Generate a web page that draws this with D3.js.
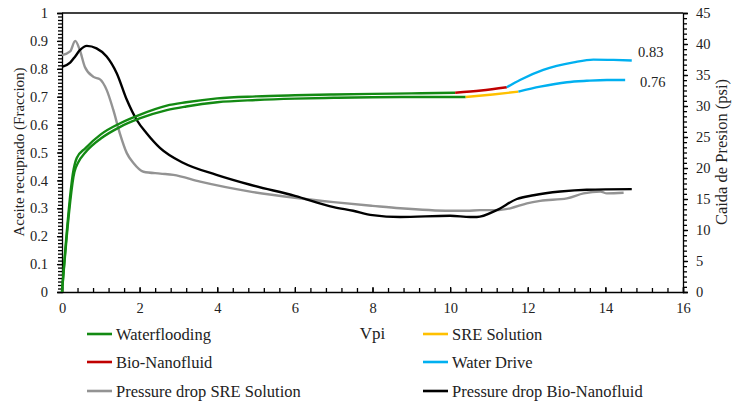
<!DOCTYPE html>
<html>
<head>
<meta charset="utf-8">
<script src="https://cdn.jsdelivr.net/npm/d3@7"></script>
<style>
  body { margin: 0; background: #fff; }
  svg text { font-family: "Liberation Serif", "Times New Roman", "DejaVu Serif", serif; }
  .axis path, .axis line { stroke: #000; stroke-width: 1.3; }
</style>
</head>
<body>
<div id="main"></div>
<script>
var outerWidth = 732;
var outerHeight = 402;

var x0 = 62, x1 = 683, yTop = 13, yBot = 292;

// recovery curves (Vpi, fraction)
var wfBioV = [0, 0.3, 0.38, 0.6, 1.0, 1.5, 2, 2.7, 3.2, 4, 5, 6, 7, 8, 9, 10.13];
var wfBioY = [0, 0.44, 0.48, 0.515, 0.565, 0.605, 0.635, 0.668, 0.68, 0.694, 0.701, 0.705, 0.708, 0.71, 0.712, 0.714];
var wfSreV = [0, 0.32, 0.42, 0.6, 1.0, 1.5, 2, 2.7, 3.2, 4, 5, 6, 7, 8, 9, 10.4];
var wfSreY = [0, 0.43, 0.465, 0.5, 0.55, 0.592, 0.622, 0.652, 0.665, 0.68, 0.688, 0.693, 0.696, 0.698, 0.699, 0.699];
var bioV = [10.13, 10.8, 11.46];
var bioY = [0.714, 0.722, 0.734];
var sreV = [10.4, 11.1, 11.76];
var sreY = [0.699, 0.708, 0.718];
var wdBioV = [11.46, 11.8, 12.4, 13.18, 13.69, 14.21, 14.68];
var wdBioY = [0.734, 0.76, 0.796, 0.823, 0.833, 0.832, 0.83];
var wdSreV = [11.76, 12.32, 13.01, 13.52, 14.04, 14.51];
var wdSreY = [0.718, 0.736, 0.752, 0.757, 0.76, 0.76];

// pressure drop curves (Vpi, psi)
var pSreV = [0, 0.21, 0.34, 0.46, 0.59, 0.81, 0.98, 1.15, 1.32, 1.49, 1.67, 1.84, 2.1, 2.53, 2.87, 3.56, 4.85, 6, 7, 8, 8.71, 10, 10.43, 10.77, 11.2, 11.55, 11.98, 12.32, 13.01, 13.44, 13.87, 14.04, 14.47];
var pSreY = [38.2, 38.8, 40.5, 39.0, 36.3, 34.7, 34.3, 32.6, 29.4, 25.6, 22.4, 20.8, 19.4, 19.1, 18.9, 17.8, 16.2, 15.2, 14.5, 13.9, 13.5, 13.1, 13.1, 13.2, 13.2, 13.5, 14.3, 14.7, 15.1, 15.9, 16.2, 15.9, 16.0];
var pBioV = [0, 0.21, 0.34, 0.46, 0.64, 0.89, 1.15, 1.41, 1.67, 1.93, 2.18, 2.53, 3.13, 3.98, 4.85, 6, 7, 7.5, 8, 8.71, 10, 10.52, 10.69, 11.2, 11.72, 12.15, 12.84, 13.52, 14.68];
var pBioY = [36.3, 37.0, 38.0, 39.0, 39.7, 39.3, 38.0, 35.3, 31.0, 27.7, 25.6, 23.2, 20.8, 18.9, 17.3, 15.5, 13.7, 13.1, 12.4, 12.1, 12.3, 12.1, 12.1, 13.2, 15.0, 15.6, 16.2, 16.5, 16.6];

var leftTicks = [0, 0.1, 0.2, 0.3, 0.4, 0.5, 0.6, 0.7, 0.8, 0.9, 1];
var rightTicks = [0, 5, 10, 15, 20, 25, 30, 35, 40, 45];
var bottomTicks = [0, 2, 4, 6, 8, 10, 12, 14, 16];

var xScale = d3.scaleLinear().domain([0, 16]).range([x0, x1]);
var yScale = d3.scaleLinear().domain([0, 1]).range([yBot, yTop]);
var pScale = d3.scaleLinear().domain([0, 45]).range([yBot, yTop]);

var svg = d3.select("#main").append("svg")
    .attr("width", outerWidth)
    .attr("height", outerHeight);

// minor ticks
var minorLeft = d3.range(0, 81).map(i => i / 80);
var minorRight = d3.range(0, 55).map(i => i * 45 / 54);
var minorBottom = d3.range(0, 41).map(i => i * 0.4);

svg.append("g").attr("class", "axis")
    .attr("transform", "translate(" + x0 + ",0)")
    .call(d3.axisLeft(yScale).tickValues(minorLeft).tickSize(4).tickFormat(""))
    .select(".domain").remove();
svg.append("g").attr("class", "axis")
    .attr("transform", "translate(" + x1 + ",0)")
    .call(d3.axisRight(pScale).tickValues(minorRight).tickSize(4).tickFormat(""))
    .select(".domain").remove();
svg.append("g").attr("class", "axis")
    .attr("transform", "translate(0," + yBot + ")")
    .call(d3.axisBottom(xScale).tickValues(minorBottom).tickSize(-4).tickFormat(""))
    .select(".domain").remove();

// main axes
svg.append("g").attr("class", "axis")
    .attr("transform", "translate(" + x0 + ",0)")
    .call(d3.axisLeft(yScale).tickValues(leftTicks).tickSizeOuter(0).tickSize(5).tickPadding(9)
        .tickFormat(d => (d === 0 || d === 1) ? String(d) : d.toFixed(1)));
svg.append("g").attr("class", "axis")
    .attr("transform", "translate(" + x1 + ",0)")
    .call(d3.axisRight(pScale).tickValues(rightTicks).tickSizeOuter(0).tickSize(5).tickPadding(8));
svg.append("g").attr("class", "axis")
    .attr("transform", "translate(0," + yBot + ")")
    .call(d3.axisBottom(xScale).tickValues(bottomTicks).tickSizeOuter(0).tickSize(-5).tickPadding(11));

svg.selectAll(".axis").attr("font-family", null).attr("font-size", null);
svg.selectAll(".axis text").attr("font-size", 14.5).attr("fill", "#222");

svg.append("line")
    .attr("x1", x0).attr("x2", x1).attr("y1", yTop).attr("y2", yTop)
    .attr("stroke", "#000").attr("stroke-width", 1.3);

// curves
var recLine = d3.line().x(d => xScale(d[0])).y(d => yScale(d[1])).curve(d3.curveMonotoneX);
var pLine = d3.line().x(d => xScale(d[0])).y(d => pScale(d[1])).curve(d3.curveMonotoneX);

function pairs(xs, ys) { return xs.map((v, i) => [v, ys[i]]); }

var series = [
  { xs: pSreV, ys: pSreY, line: pLine, color: "#939393" },
  { xs: pBioV, ys: pBioY, line: pLine, color: "#000000" },
  { xs: wfBioV, ys: wfBioY, line: recLine, color: "#138a13" },
  { xs: wfSreV, ys: wfSreY, line: recLine, color: "#138a13" },
  { xs: bioV, ys: bioY, line: recLine, color: "#c00000" },
  { xs: sreV, ys: sreY, line: recLine, color: "#ffc000" },
  { xs: wdBioV, ys: wdBioY, line: recLine, color: "#00b0f0" },
  { xs: wdSreV, ys: wdSreY, line: recLine, color: "#00b0f0" }
];

svg.selectAll("path.series").data(series).enter()
    .append("path")
    .attr("class", "series")
    .attr("fill", "none")
    .attr("stroke", d => d.color)
    .attr("stroke-width", 2.4)
    .attr("stroke-linejoin", "round")
    .attr("d", d => d.line(pairs(d.xs, d.ys)));

// end value labels
svg.append("text").attr("x", 638).attr("y", 57).attr("font-size", 14.5).attr("fill", "#222").text("0.83");
svg.append("text").attr("x", 640).attr("y", 87).attr("font-size", 14.5).attr("fill", "#222").text("0.76");

// axis titles
svg.append("text")
    .attr("transform", "translate(24,152) rotate(-90)")
    .attr("text-anchor", "middle").attr("font-size", 15).attr("fill", "#222")
    .text("Aceite recuprado (Fraccion)");
svg.append("text")
    .attr("transform", "translate(727,152) rotate(-90)")
    .attr("text-anchor", "middle").attr("font-size", 16.5).attr("fill", "#222")
    .text("Caida de Presion (psi)");
svg.append("text")
    .attr("x", xScale(8)).attr("y", 339)
    .attr("text-anchor", "middle").attr("font-size", 17).attr("fill", "#222")
    .text("Vpi");

// legend
var legendNames = ["Waterflooding", "SRE Solution", "Bio-Nanofluid", "Water Drive", "Pressure drop SRE Solution", "Pressure drop Bio-Nanofluid"];
var legendColors = ["#138a13", "#ffc000", "#c00000", "#00b0f0", "#939393", "#000000"];
var legendX = [87, 423];
var legendY = [334, 362, 391];

var lg = svg.selectAll("g.legend").data(legendNames).enter()
    .append("g")
    .attr("class", "legend")
    .attr("transform", (d, i) => "translate(" + legendX[i % 2] + "," + legendY[Math.floor(i / 2)] + ")");
lg.append("line")
    .attr("x1", 0).attr("x2", 25).attr("y1", 0).attr("y2", 0)
    .attr("stroke", (d, i) => legendColors[i]).attr("stroke-width", 2.6);
lg.append("text")
    .attr("x", 29).attr("y", 5.5)
    .attr("font-size", 16.5).attr("fill", "#222")
    .text(d => d);
</script>
</body>
</html>
